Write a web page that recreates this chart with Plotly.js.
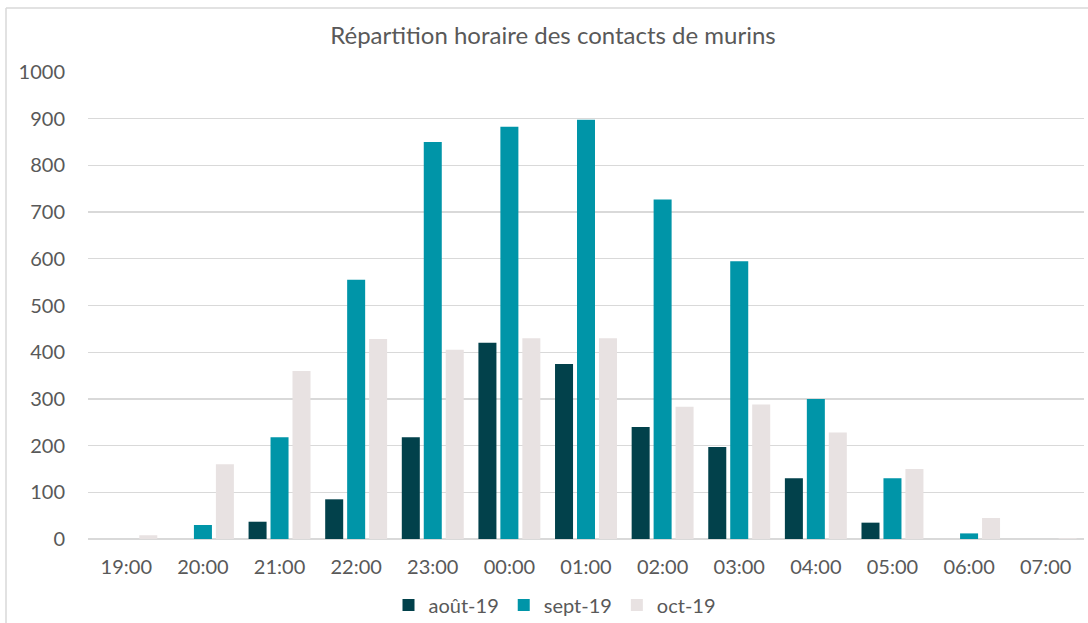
<!DOCTYPE html>
<html>
<head>
<meta charset="utf-8">
<script src="https://cdn.plot.ly/plotly-3.0.1.min.js"></script>
<style>
html,body{margin:0;padding:0;background:#fff;}
#chart{width:1088px;height:623px;}
</style>
</head>
<body>
<div id="chart"></div>
<script>
const hours = ["19:00","20:00","21:00","22:00","23:00","00:00","01:00","02:00","03:00","04:00","05:00","06:00","07:00"];
const aout19 = [0, 0, 37, 85, 218, 420, 375, 240, 197, 130, 35, 0, 0];
const sept19 = [0, 30, 218, 555, 850, 883, 898, 727, 595, 300, 130, 12, 0];
const oct19  = [8, 160, 360, 428, 405, 430, 430, 283, 288, 228, 150, 45, 2];
const seriesNames = ["août-19", "sept-19", "oct-19"];
const yTicks = [0,100,200,300,400,500,600,700,800,900,1000];

const W = 1088, H = 623;
const m = {l: 88, r: 4, t: 72, b: 84};
const pw = W - m.l - m.r, ph = H - m.t - m.b;

const colors = ["#02414b", "#0095a8", "#e8e2e2"];
const traces = [aout19, sept19, oct19].map((vals, i) => ({
  type: "bar",
  name: seriesNames[i],
  x: hours,
  y: vals,
  marker: {color: colors[i]},
  hoverinfo: "x+y+name"
}));

const font = "Lato, 'Open Sans', sans-serif";
const layout = {
  width: W, height: H,
  margin: m,
  paper_bgcolor: "#ffffff",
  plot_bgcolor: "#ffffff",
  barmode: "group",
  bargap: 0.14,
  bargroupgap: 0.18,
  title: {
    text: "Répartition horaire des contacts de murins",
    font: {family: font, size: 24, color: "#595959"},
    x: 553 / W, xanchor: "center", xref: "container",
    y: 1 - 36 / H, yanchor: "middle", yref: "container"
  },
  xaxis: {
    type: "category",
    tickfont: {family: font, size: 20, color: "#595959"},
    showgrid: false,
    showline: false,
    ticks: "",
    zeroline: false,
    ticklabelstandoff: 14
  },
  yaxis: {
    range: [0, 1000],
    tickvals: yTicks,
    ticktext: yTicks.map(String),
    tickfont: {family: font, size: 20, color: "#595959"},
    gridcolor: "#d9d9d9",
    gridwidth: 1.3,
    zeroline: true,
    zerolinecolor: "#d9d9d9",
    zerolinewidth: 1.3,
    showline: false,
    ticks: "",
    ticklabelstandoff: 22
  },
  legend: {
    orientation: "h",
    x: 555 / W, xanchor: "center", xref: "container",
    y: 1 - 605 / H, yanchor: "middle", yref: "container",
    font: {family: font, size: 20, color: "#595959"},
    itemwidth: 30,
    traceorder: "normal"
  },
  shapes: [
    {type: "line", xref: "paper", yref: "paper",
     x0: (6 - m.l) / pw, x1: (W - m.l) / pw,
     y0: 1 + (m.t - 8) / ph, y1: 1 + (m.t - 8) / ph,
     line: {color: "#d9d9d9", width: 1.5}},
    {type: "line", xref: "paper", yref: "paper",
     x0: (6 - m.l) / pw, x1: (6 - m.l) / pw,
     y0: 1 + (m.t - 8) / ph, y1: -(m.b) / ph,
     line: {color: "#d9d9d9", width: 1.5}}
  ],
  showlegend: true
};

Plotly.newPlot("chart", traces, layout, {displayModeBar: false, staticPlot: true});
</script>
</body>
</html>
